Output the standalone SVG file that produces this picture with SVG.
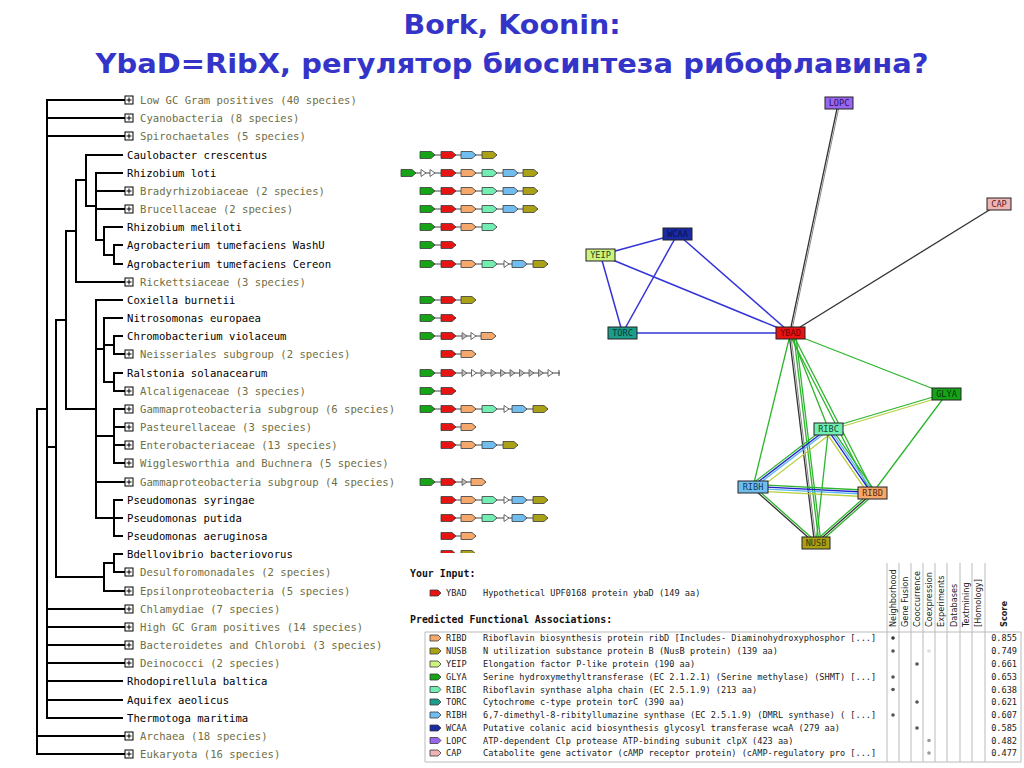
<svg xmlns="http://www.w3.org/2000/svg" xmlns:xlink="http://www.w3.org/1999/xlink" width="1024" height="768" viewBox="0 0 1024 768">
<style>
.title{font-family:"DejaVu Sans","Noto Sans",sans-serif;font-weight:bold;fill:#3434c8;}
.tr{fill:none;stroke:#000;stroke-width:2;stroke-linecap:square;}
.sp{font-family:"DejaVu Sans Mono","Liberation Mono",monospace;font-size:10.6px;fill:#000;}
.gp{font-family:"DejaVu Sans Mono","Liberation Mono",monospace;font-size:10.6px;fill:#6e6e44;}
.box{fill:#fff;stroke:#000;stroke-width:1;}
.pl{stroke:#000;stroke-width:1;}
.ga{stroke:#3a3a3a;stroke-width:0.8;}
.cn{stroke:#444;stroke-width:1;}
.st{fill:#fff;stroke:#444;stroke-width:0.8;}
.stg{fill:#bbb;stroke:#555;stroke-width:0.8;}
.G{fill:#17a317;} .R{fill:#e81313;} .S{fill:#f5a86c;} .M{fill:#72eeb2;} .B{fill:#72bdf0;} .O{fill:#aaa116;}
.Y{fill:#ccf37e;} .T{fill:#1c9c8a;} .W{fill:#1a2aa0;} .L{fill:#9966ee;} .C{fill:#eeb4b4;}
.nd{stroke:#222;stroke-width:1;}
.nl{font-family:"DejaVu Sans Mono","Liberation Mono",monospace;font-size:8.6px;text-anchor:middle;}
.eb{stroke:#3434d8;stroke-width:1.5;}
.eg{stroke:#2cb52c;stroke-width:1.3;}
.ey{stroke:#b8d040;stroke-width:1.3;}
.ebb{stroke:#2020cc;stroke-width:1.3;}
.elb{stroke:#60b8f0;stroke-width:1.3;}
.ek{stroke:#333;stroke-width:1.3;}
.ekg{stroke:#888;stroke-width:1;}
.tb{font-family:"DejaVu Sans Mono","Liberation Mono",monospace;font-size:8.6px;fill:#222;}
.th{font-family:"DejaVu Sans Mono","Liberation Mono",monospace;font-size:9.9px;font-weight:bold;fill:#111;}
.ch{font-family:"DejaVu Sans","Liberation Sans",sans-serif;font-size:8.2px;fill:#222;}
.grid{stroke:#bbb;stroke-width:1;fill:none;}
.sc{text-anchor:end;}
</style>
<defs>
<path id="ga" d="M0,-3.5 H11 L15,0 L11,3.5 H0 Z"/>
<path id="gi" d="M0,-3 H8 L11,0 L8,3 H0 Z"/>
<path id="st" d="M0,-3.5 L5,0 L0,3.5 Z"/>
<clipPath id="cut"><rect x="400" y="540" width="200" height="13"/></clipPath>
</defs>
<rect width="1024" height="768" fill="#fff"/>

<g id="title">
<text class="title" x="512" y="34" font-size="26" text-anchor="middle" textLength="217" lengthAdjust="spacingAndGlyphs">Bork, Koonin:</text>
<text class="title" x="512" y="73" font-size="26" text-anchor="middle" textLength="833" lengthAdjust="spacingAndGlyphs">YbaD=RibX, регулятор биосинтеза рибофлавина?</text>
</g>

<g id="tree">
<path class="tr" d="M37,409 V754 M37,736 H125 M37,754 H125 M37,409 H47
M47,100 V718 M47,100 H125 M47,118 H125 M47,136 H125 M47,609 H125 M47,627 H125 M47,645 H125 M47,663 H125 M47,681 H122 M47,700 H122 M47,718 H122 M47,447 H56
M56,320 V577 M56,320 H66 M56,577 H104
M66,231 V409 M66,231 H76 M66,409 H96
M76,180 V282 M76,282 H125 M76,180 H86
M86,155 V206 M86,155 H122 M86,206 H96
M96,173 V240 M96,173 H122 M96,191 H125 M96,209 H125 M96,240 H104
M104,227 V255 M104,227 H122 M104,255 H114
M114,245 V264 M114,245 H122 M114,264 H122
M96,300 V518 M96,300 H122 M96,349 H104 M96,436 H114 M96,482 H125 M96,518 H114
M104,318 V382 M104,318 H122 M104,345 H114 M104,382 H114
M114,336 V354 M114,336 H122 M114,354 H125
M114,373 V391 M114,373 H122 M114,391 H125
M114,409 V463 M114,409 H125 M114,427 H125 M114,445 H125 M114,463 H125
M114,500 V536 M114,500 H122 M114,518 H122 M114,536 H122
M104,563 V591 M104,563 H114 M104,591 H125
M114,554 V572 M114,554 H122 M114,572 H125"/>
</g>

<g id="boxes">
<g id="b0"><rect class="box" x="125" y="96" width="8" height="8"/><path class="pl" d="M126.5,100 H131.5 M129,97.5 V102.5"/></g>
<use href="#b0" y="18"/><use href="#b0" y="36"/><use href="#b0" y="91"/><use href="#b0" y="109"/><use href="#b0" y="182"/>
<use href="#b0" y="254"/><use href="#b0" y="291"/><use href="#b0" y="309"/><use href="#b0" y="327"/><use href="#b0" y="345"/><use href="#b0" y="363"/><use href="#b0" y="382"/>
<use href="#b0" y="472"/><use href="#b0" y="491"/><use href="#b0" y="509"/><use href="#b0" y="527"/><use href="#b0" y="545"/><use href="#b0" y="563"/><use href="#b0" y="636"/><use href="#b0" y="654"/>
</g>

<g id="labels">
<text class="gp" x="140" y="104">Low GC Gram positives (40 species)</text>
<text class="gp" x="140" y="122">Cyanobacteria (8 species)</text>
<text class="gp" x="140" y="140">Spirochaetales (5 species)</text>
<text class="sp" x="127" y="159">Caulobacter crescentus</text>
<text class="sp" x="127" y="177">Rhizobium loti</text>
<text class="gp" x="140" y="195">Bradyrhizobiaceae (2 species)</text>
<text class="gp" x="140" y="213">Brucellaceae (2 species)</text>
<text class="sp" x="127" y="231">Rhizobium meliloti</text>
<text class="sp" x="127" y="249">Agrobacterium tumefaciens WashU</text>
<text class="sp" x="127" y="268">Agrobacterium tumefaciens Cereon</text>
<text class="gp" x="140" y="286">Rickettsiaceae (3 species)</text>
<text class="sp" x="127" y="304">Coxiella burnetii</text>
<text class="sp" x="127" y="322">Nitrosomonas europaea</text>
<text class="sp" x="127" y="340">Chromobacterium violaceum</text>
<text class="gp" x="140" y="358">Neisseriales subgroup (2 species)</text>
<text class="sp" x="127" y="377">Ralstonia solanacearum</text>
<text class="gp" x="140" y="395">Alcaligenaceae (3 species)</text>
<text class="gp" x="140" y="413">Gammaproteobacteria subgroup (6 species)</text>
<text class="gp" x="140" y="431">Pasteurellaceae (3 species)</text>
<text class="gp" x="140" y="449">Enterobacteriaceae (13 species)</text>
<text class="gp" x="140" y="467">Wigglesworthia and Buchnera (5 species)</text>
<text class="gp" x="140" y="486">Gammaproteobacteria subgroup (4 species)</text>
<text class="sp" x="127" y="504">Pseudomonas syringae</text>
<text class="sp" x="127" y="522">Pseudomonas putida</text>
<text class="sp" x="127" y="540">Pseudomonas aeruginosa</text>
<text class="sp" x="127" y="558">Bdellovibrio bacteriovorus</text>
<text class="gp" x="140" y="576">Desulforomonadales (2 species)</text>
<text class="gp" x="140" y="595">Epsilonproteobacteria (5 species)</text>
<text class="gp" x="140" y="613">Chlamydiae (7 species)</text>
<text class="gp" x="140" y="631">High GC Gram positives (14 species)</text>
<text class="gp" x="140" y="649">Bacteroidetes and Chlorobi (3 species)</text>
<text class="gp" x="140" y="667">Deinococci (2 species)</text>
<text class="sp" x="127" y="685">Rhodopirellula baltica</text>
<text class="sp" x="127" y="704">Aquifex aeolicus</text>
<text class="sp" x="127" y="722">Thermotoga maritima</text>
<text class="gp" x="140" y="740">Archaea (18 species)</text>
<text class="gp" x="140" y="758">Eukaryota (16 species)</text>
</g>

<g id="genes">
<path class="cn" d="M420,155 H497 M401,173 H538 M420,191 H538 M420,209 H538 M420,227 H497 M420,245 H456 M420,264 H548 M420,300 H476 M420,318 H456 M420,336 H496 M441,354 H476 M420,373 H560 M420,391 H456 M420,409 H548 M441,427 H476 M441,445 H518 M420,482 H486 M441,500 H548 M441,518 H548 M441,536 H476"/>
<use href="#ga" class="ga G" x="420" y="155"/><use href="#ga" class="ga R" x="441" y="155"/><use href="#ga" class="ga B" x="461" y="155"/><use href="#ga" class="ga O" x="482" y="155"/>
<use href="#ga" class="ga G" x="401" y="173"/><use href="#st" class="st" x="421" y="173"/><use href="#st" class="st" x="430" y="173"/><use href="#ga" class="ga R" x="441" y="173"/><use href="#ga" class="ga S" x="461" y="173"/><use href="#ga" class="ga M" x="482" y="173"/><use href="#ga" class="ga B" x="503" y="173"/><use href="#ga" class="ga O" x="523" y="173"/>
<use href="#ga" class="ga G" x="420" y="191"/><use href="#ga" class="ga R" x="441" y="191"/><use href="#ga" class="ga S" x="461" y="191"/><use href="#ga" class="ga M" x="482" y="191"/><use href="#ga" class="ga B" x="503" y="191"/><use href="#ga" class="ga O" x="523" y="191"/>
<use href="#ga" class="ga G" x="420" y="209"/><use href="#ga" class="ga R" x="441" y="209"/><use href="#ga" class="ga S" x="461" y="209"/><use href="#ga" class="ga M" x="482" y="209"/><use href="#ga" class="ga B" x="503" y="209"/><use href="#ga" class="ga O" x="523" y="209"/>
<use href="#ga" class="ga G" x="420" y="227"/><use href="#ga" class="ga R" x="441" y="227"/><use href="#ga" class="ga S" x="461" y="227"/><use href="#ga" class="ga M" x="482" y="227"/>
<use href="#ga" class="ga G" x="420" y="245"/><use href="#ga" class="ga R" x="441" y="245"/>
<use href="#ga" class="ga G" x="420" y="264"/><use href="#ga" class="ga R" x="441" y="264"/><use href="#ga" class="ga S" x="461" y="264"/><use href="#ga" class="ga M" x="482" y="264"/><use href="#st" class="st" x="504" y="264"/><use href="#ga" class="ga B" x="512" y="264"/><use href="#ga" class="ga O" x="533" y="264"/>
<use href="#ga" class="ga G" x="420" y="300"/><use href="#ga" class="ga R" x="441" y="300"/><use href="#ga" class="ga O" x="461" y="300"/>
<use href="#ga" class="ga G" x="420" y="318"/><use href="#ga" class="ga R" x="441" y="318"/>
<use href="#ga" class="ga G" x="420" y="336"/><use href="#ga" class="ga R" x="441" y="336"/><use href="#st" class="stg" x="462" y="336"/><use href="#st" class="st" x="471" y="336"/><use href="#ga" class="ga S" x="481" y="336"/>
<use href="#ga" class="ga R" x="441" y="354"/><use href="#ga" class="ga S" x="461" y="354"/>
<use href="#ga" class="ga G" x="420" y="373"/><use href="#ga" class="ga R" x="441" y="373"/>
<use href="#st" class="stg" x="462" y="373"/><use href="#st" class="st" x="471.5" y="373"/><use href="#st" class="stg" x="481" y="373"/><use href="#st" class="stg" x="491" y="373"/><use href="#st" class="stg" x="500.5" y="373"/><use href="#st" class="stg" x="510" y="373"/><use href="#st" class="stg" x="519.5" y="373"/><use href="#st" class="stg" x="529" y="373"/><use href="#st" class="stg" x="538.5" y="373"/><use href="#st" class="st" x="548" y="373"/><path class="cn" d="M559,370 V376"/>
<use href="#ga" class="ga G" x="420" y="391"/><use href="#ga" class="ga R" x="441" y="391"/>
<use href="#ga" class="ga G" x="420" y="409"/><use href="#ga" class="ga R" x="441" y="409"/><use href="#ga" class="ga S" x="461" y="409"/><use href="#ga" class="ga M" x="482" y="409"/><use href="#st" class="st" x="504" y="409"/><use href="#ga" class="ga B" x="512" y="409"/><use href="#ga" class="ga O" x="533" y="409"/>
<use href="#ga" class="ga R" x="441" y="427"/><use href="#ga" class="ga S" x="461" y="427"/>
<use href="#ga" class="ga R" x="441" y="445"/><use href="#ga" class="ga S" x="461" y="445"/><use href="#ga" class="ga B" x="482" y="445"/><use href="#ga" class="ga O" x="503" y="445"/>
<use href="#ga" class="ga G" x="420" y="482"/><use href="#ga" class="ga R" x="441" y="482"/><use href="#st" class="stg" x="462" y="482"/><use href="#ga" class="ga S" x="471" y="482"/>
<use href="#ga" class="ga R" x="441" y="500"/><use href="#ga" class="ga S" x="461" y="500"/><use href="#ga" class="ga M" x="482" y="500"/><use href="#st" class="st" x="504" y="500"/><use href="#ga" class="ga B" x="512" y="500"/><use href="#ga" class="ga O" x="533" y="500"/>
<use href="#ga" class="ga R" x="441" y="518"/><use href="#ga" class="ga S" x="461" y="518"/><use href="#ga" class="ga M" x="482" y="518"/><use href="#st" class="st" x="504" y="518"/><use href="#ga" class="ga B" x="512" y="518"/><use href="#ga" class="ga O" x="533" y="518"/>
<use href="#ga" class="ga R" x="441" y="536"/><use href="#ga" class="ga S" x="461" y="536"/>
<g clip-path="url(#cut)"><path class="cn" d="M441,554 H476"/><use href="#ga" class="ga R" x="441" y="554"/><use href="#ga" class="ga O" x="461" y="554"/></g>
</g>

<g id="edges">
<line class="ek" x1="838.2" y1="103" x2="789.7" y2="333"/>
<line class="ekg" x1="839.8" y1="103" x2="791.3" y2="333"/>
<line class="ek" x1="999" y1="204" x2="790.5" y2="333"/>
<line class="eb" x1="600.5" y1="255" x2="677.5" y2="234"/>
<line class="eb" x1="600.5" y1="255" x2="622.5" y2="333"/>
<line class="eb" x1="677.5" y1="234" x2="622.5" y2="333"/>
<line class="eb" x1="677.5" y1="234" x2="790.5" y2="333"/>
<line class="eb" x1="600.5" y1="255" x2="790.5" y2="333"/>
<line class="eb" x1="622.5" y1="333" x2="790.5" y2="333"/>
<line class="eg" x1="790.5" y1="333" x2="946.5" y2="394"/>
<line class="eg" x1="790.5" y1="333" x2="753" y2="487"/>
<line class="eg" x1="790.5" y1="333" x2="828.5" y2="429"/>
<line class="eg" x1="789.2" y1="333.7" x2="871.2" y2="493.7"/>
<line class="eg" x1="791.8" y1="332.3" x2="873.8" y2="492.3"/>
<line class="ek" x1="789" y1="333" x2="814.5" y2="543"/>
<line class="ekg" x1="790.6" y1="333" x2="816.1" y2="543"/>
<line class="eg" x1="793.5" y1="333" x2="819" y2="543"/>
<line class="eg" x1="795.5" y1="333" x2="821" y2="543"/>
<line class="eg" x1="946.5" y1="393" x2="828.5" y2="428"/>
<line class="ey" x1="946.5" y1="395.5" x2="828.5" y2="430.5"/>
<line class="eg" x1="946.5" y1="394" x2="872.5" y2="493"/>
<line class="eg" x1="826.7" y1="426.6" x2="751.2" y2="484.6"/>
<line class="ebb" x1="827.9" y1="428.2" x2="752.4" y2="486.2"/>
<line class="elb" x1="829.1" y1="429.8" x2="753.6" y2="487.8"/>
<line class="ey" x1="831.6" y1="433" x2="756.1" y2="491"/>
<line class="ey" x1="825.2" y1="431.2" x2="869.2" y2="495.2"/>
<line class="ebb" x1="827.7" y1="429.6" x2="871.7" y2="493.6"/>
<line class="elb" x1="829.3" y1="428.4" x2="873.3" y2="492.4"/>
<line class="eg" x1="831" y1="427.3" x2="875" y2="491.3"/>
<line class="eg" x1="753" y1="484.5" x2="872.5" y2="490.5"/>
<line class="ebb" x1="753" y1="486.5" x2="872.5" y2="492.5"/>
<line class="elb" x1="753" y1="488.5" x2="872.5" y2="494.5"/>
<line class="ey" x1="753" y1="491" x2="872.5" y2="497"/>
<line class="eg" x1="828.5" y1="429" x2="816" y2="543"/>
<line class="ek" x1="752.3" y1="487.7" x2="815.3" y2="543.7"/>
<line class="eg" x1="753.7" y1="486.3" x2="816.7" y2="542.3"/>
<line class="ek" x1="872.5" y1="493" x2="816" y2="543"/>
<line class="eg" x1="871.2" y1="491.5" x2="814.7" y2="541.5"/>
<line class="eg" x1="873.8" y1="494.5" x2="817.3" y2="544.5"/>
</g>

<g id="n-lopc"><rect class="nd L" x="825" y="97" width="28" height="12"/><text class="nl" x="839" y="106" fill="#2a1060">LOPC</text></g>
<g id="n-cap"><rect class="nd C" x="987" y="198" width="24" height="12"/><text class="nl" x="999" y="207" fill="#5a2020">CAP</text></g>
<g id="n-wcaa"><rect class="nd W" x="663" y="228" width="29" height="12"/><text class="nl" x="677.5" y="237" fill="#0a1050">WCAA</text></g>
<g id="n-yeip"><rect class="nd Y" x="586" y="249" width="29" height="12"/><text class="nl" x="600.5" y="258" fill="#2a4010">YEIP</text></g>
<g id="n-torc"><rect class="nd T" x="608" y="327" width="29" height="12"/><text class="nl" x="622.5" y="336" fill="#083a33">TORC</text></g>
<g id="n-ybad"><rect class="nd R" x="776" y="327" width="29" height="12"/><text class="nl" x="790.5" y="336" fill="#700000">YBAD</text></g>
<g id="n-glya"><rect class="nd G" x="932" y="388" width="29" height="12"/><text class="nl" x="946.5" y="397" fill="#063806">GLYA</text></g>
<g id="n-ribc"><rect class="nd M" x="814" y="423" width="29" height="12"/><text class="nl" x="828.5" y="432" fill="#104a30">RIBC</text></g>
<g id="n-ribh"><rect class="nd B" x="738" y="481" width="30" height="12"/><text class="nl" x="753" y="490" fill="#103a5a">RIBH</text></g>
<g id="n-ribd"><rect class="nd S" x="858" y="487" width="29" height="12"/><text class="nl" x="872.5" y="496" fill="#5a2a08">RIBD</text></g>
<g id="n-nusb"><rect class="nd O" x="802" y="537" width="28" height="12"/><text class="nl" x="816" y="546" fill="#3a3608">NUSB</text></g>

<g id="table">
<text class="th" x="410" y="577">Your Input:</text>
<use href="#gi" class="ga R" x="430" y="593"/>
<text class="tb" x="446" y="596">YBAD</text>
<text class="tb" x="483" y="596">Hypothetical UPF0168 protein ybaD (149 aa)</text>
<text class="th" x="410" y="623">Predicted Functional Associations:</text>
<path class="grid" d="M425,632 H1021 V762 H425 Z M887,563 V762 M899,563 V762 M911,563 V762 M923,563 V762 M935,563 V762 M947,563 V762 M960,563 V762 M972,563 V762 M985,563 V762"/>
<text class="ch" transform="translate(896,627) rotate(-90)">Neighborhood</text>
<text class="ch" transform="translate(908,627) rotate(-90)">Gene Fusion</text>
<text class="ch" transform="translate(920,627) rotate(-90)">Cooccurrence</text>
<text class="ch" transform="translate(932,627) rotate(-90)">Coexpression</text>
<text class="ch" transform="translate(944,627) rotate(-90)">Experiments</text>
<text class="ch" transform="translate(957,627) rotate(-90)">Databases</text>
<text class="ch" transform="translate(969,627) rotate(-90)">Textmining</text>
<text class="ch" transform="translate(981,627) rotate(-90)">[Homology]</text>
<text class="ch" transform="translate(1007,627) rotate(-90)" font-weight="bold" font-size="9">Score</text>

<use href="#gi" class="ga S" x="430" y="638"/><text class="tb" x="446" y="641">RIBD</text><text class="tb" x="483" y="641">Riboflavin biosynthesis protein ribD [Includes- Diaminohydroxyphosphor [...]</text><text class="tb sc" x="1017" y="641">0.855</text>
<use href="#gi" class="ga O" x="430" y="651"/><text class="tb" x="446" y="654">NUSB</text><text class="tb" x="483" y="654">N utilization substance protein B (NusB protein) (139 aa)</text><text class="tb sc" x="1017" y="654">0.749</text>
<use href="#gi" class="ga Y" x="430" y="664"/><text class="tb" x="446" y="667">YEIP</text><text class="tb" x="483" y="667">Elongation factor P-like protein (190 aa)</text><text class="tb sc" x="1017" y="667">0.661</text>
<use href="#gi" class="ga G" x="430" y="677"/><text class="tb" x="446" y="680">GLYA</text><text class="tb" x="483" y="680">Serine hydroxymethyltransferase (EC 2.1.2.1) (Serine methylase) (SHMT) [...]</text><text class="tb sc" x="1017" y="680">0.653</text>
<use href="#gi" class="ga M" x="430" y="689.5"/><text class="tb" x="446" y="692.5">RIBC</text><text class="tb" x="483" y="692.5">Riboflavin synthase alpha chain (EC 2.5.1.9) (213 aa)</text><text class="tb sc" x="1017" y="692.5">0.638</text>
<use href="#gi" class="ga T" x="430" y="702"/><text class="tb" x="446" y="705">TORC</text><text class="tb" x="483" y="705">Cytochrome c-type protein torC (390 aa)</text><text class="tb sc" x="1017" y="705">0.621</text>
<use href="#gi" class="ga B" x="430" y="715"/><text class="tb" x="446" y="718">RIBH</text><text class="tb" x="483" y="718">6,7-dimethyl-8-ribityllumazine synthase (EC 2.5.1.9) (DMRL synthase) ( [...]</text><text class="tb sc" x="1017" y="718">0.607</text>
<use href="#gi" class="ga W" x="430" y="728"/><text class="tb" x="446" y="731">WCAA</text><text class="tb" x="483" y="731">Putative colanic acid biosynthesis glycosyl transferase wcaA (279 aa)</text><text class="tb sc" x="1017" y="731">0.585</text>
<use href="#gi" class="ga L" x="430" y="740.5"/><text class="tb" x="446" y="743.5">LOPC</text><text class="tb" x="483" y="743.5">ATP-dependent Clp protease ATP-binding subunit clpX (423 aa)</text><text class="tb sc" x="1017" y="743.5">0.482</text>
<use href="#gi" class="ga C" x="430" y="753"/><text class="tb" x="446" y="756">CAP</text><text class="tb" x="483" y="756">Catabolite gene activator (cAMP receptor protein) (cAMP-regulatory pro [...]</text><text class="tb sc" x="1017" y="756">0.477</text>

<g fill="#333">
<circle cx="893" cy="638" r="1.8"/><circle cx="893" cy="651" r="1.8" fill="#555"/><circle cx="893" cy="677" r="1.8" fill="#555"/><circle cx="893" cy="689.5" r="1.8" fill="#555"/><circle cx="893" cy="715" r="1.8" fill="#555"/>
<circle cx="917" cy="664" r="1.8" fill="#555"/><circle cx="917" cy="702" r="1.8" fill="#555"/><circle cx="917" cy="728" r="1.8" fill="#555"/>
<circle cx="929" cy="651" r="1.8" fill="#ddd"/><circle cx="929" cy="740.5" r="1.8" fill="#999"/><circle cx="929" cy="753" r="1.8" fill="#999"/>
</g>
</g>
</svg>
